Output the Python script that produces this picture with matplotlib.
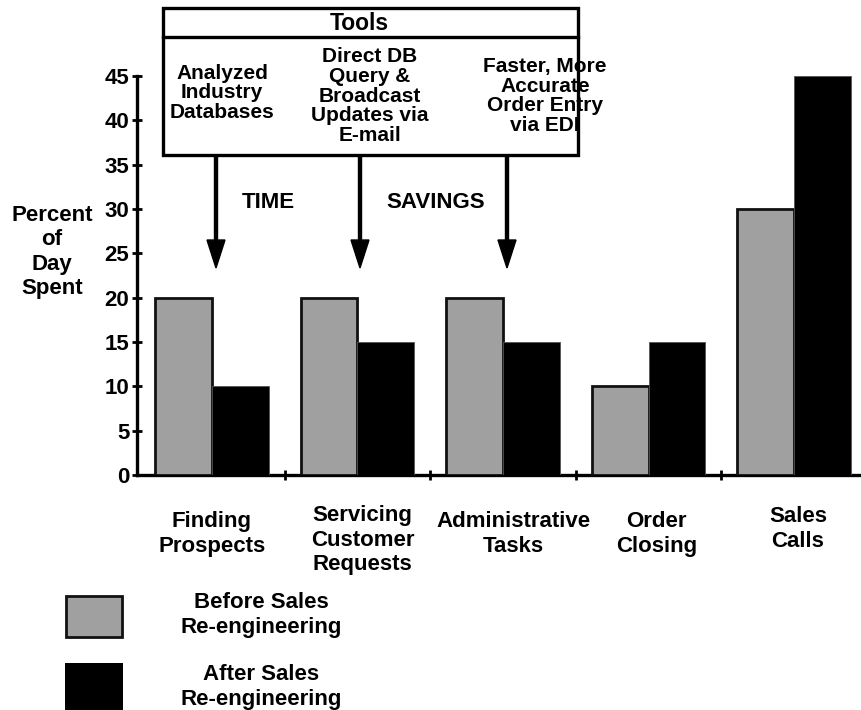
import matplotlib
matplotlib.use("Agg")
import matplotlib.pyplot as plt
from matplotlib.patches import Rectangle
import numpy as np

# ---- data ----
categories = ["Finding\nProspects", "Servicing\nCustomer\nRequests",
              "Administrative\nTasks", "Order\nClosing", "Sales\nCalls"]
before = [20, 20, 20, 10, 30]
after = [10, 15, 15, 15, 45]
yticks = [0, 5, 10, 15, 20, 25, 30, 35, 40, 45]
series_labels = ["Before Sales\nRe-engineering", "After Sales\nRe-engineering"]
tools = ["Analyzed\nIndustry\nDatabases",
         "Direct DB\nQuery &\nBroadcast\nUpdates via\nE-mail",
         "Faster, More\nAccurate\nOrder Entry\nvia EDI"]

plt.rcParams['font.family'] = ['Liberation Sans', 'DejaVu Sans']
plt.rcParams['font.weight'] = 'bold'

W, H = 861, 710
fig = plt.figure(figsize=(W / 100, H / 100), dpi=100)

def fx(px):
    return px / W

def fy(py):
    return 1 - py / H

FS = 16

# main axes
ax = fig.add_axes([fx(137), fy(475), (W - 137) / W, (475 - 76) / H])
ax.set_xlim(-0.515, 4.46)
ax.set_ylim(0, 45)
x = np.arange(len(categories))
bw = 0.39
gray = '#a0a0a0'
ax.bar(x - bw, before, width=bw, align='edge', color=gray, edgecolor='#111111',
       linewidth=2, zorder=3)
ax.bar(x, after, width=bw, align='edge', color='black', edgecolor='#555555',
       linewidth=0.6, zorder=3)

for s in ['top', 'right']:
    ax.spines[s].set_visible(False)
for s in ['left', 'bottom']:
    ax.spines[s].set_linewidth(2.4)
ax.set_yticks(yticks)
ax.set_yticklabels([str(t) for t in yticks], fontsize=FS, fontweight='bold')
ax.tick_params(axis='y', direction='inout', length=7, width=2, pad=2)
ax.set_xticks(x[:-1] + 0.5)
ax.set_xticklabels([])
ax.tick_params(axis='x', direction='inout', length=7, width=2)

# category labels
cat_dx = [0, 5, 10, 8, 4]
cat_top = [511, 505, 511, 511, 506]
for i, lab in enumerate(categories):
    px = ax.transData.transform((x[i], 0))[0] + cat_dx[i]
    fig.text(fx(px), fy(cat_top[i]), lab, ha='center', va='top', fontsize=FS,
             fontweight='bold', linespacing=1.22)

# overlay in pixel coords
ov = fig.add_axes([0, 0, 1, 1], zorder=5)
ov.set_xlim(0, W)
ov.set_ylim(H, 0)
ov.axis('off')
ov.patch.set_alpha(0)

# y label
ov.text(52, 252, "Percent\nof\nDay\nSpent", ha='center', va='center', fontsize=FS,
        fontweight='bold', linespacing=1.2)

# tools box
ov.add_patch(Rectangle((163, 8), 578 - 163, 155 - 8, fill=False, lw=2.4,
                       edgecolor='black'))
ov.plot([163, 578], [37, 37], color='black', lw=2.4)
ov.text(359, 23, "Tools", ha='center', va='center', fontsize=16.5, fontweight='bold')
tool_xy = [(222, 93), (370, 96), (545, 96)]
for (tx, ty), t in zip(tool_xy, tools):
    ov.text(tx, ty, t, ha='center', va='center', fontsize=15, fontweight='bold',
            linespacing=1.05)

# arrows
for axx in [216, 360, 507]:
    ov.arrow(axx, 155, 0, 268 - 155, width=3, head_width=18, head_length=28,
             length_includes_head=True, color='black')

ov.text(268, 203, "TIME", ha='center', va='center', fontsize=FS, fontweight='bold')
ov.text(436, 203, "SAVINGS", ha='center', va='center', fontsize=FS, fontweight='bold')

# legend
ov.add_patch(Rectangle((66, 596), 56, 41, facecolor=gray, edgecolor='#111111', lw=2))
ov.add_patch(Rectangle((65, 663), 58, 50, facecolor='black', edgecolor='black', lw=0))
ov.text(261, 615, series_labels[0], ha='center', va='center', fontsize=FS,
        fontweight='bold', linespacing=1.2)
ov.text(261, 687, series_labels[1], ha='center', va='center', fontsize=FS,
        fontweight='bold', linespacing=1.2)

fig.savefig("out.png", dpi=100)
